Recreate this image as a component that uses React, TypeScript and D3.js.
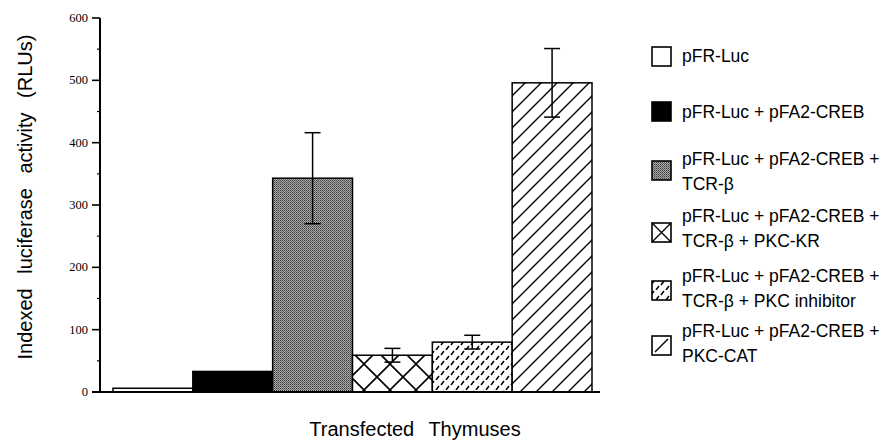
import React from 'react';
import * as d3 from 'd3';

const categories = ['luc', 'creb', 'tcr', 'kr', 'inh', 'cat'];
const values = [6, 33, 343, 59, 80, 496];
const errors = [0, 0, 73, 11, 11, 55];
const yTicks = [0, 100, 200, 300, 400, 500, 600];
const yMinor = [50, 150, 250, 350, 450, 550];
const legendLines = [
  ['pFR-Luc'],
  ['pFR-Luc + pFA2-CREB'],
  ['pFR-Luc + pFA2-CREB +', 'TCR-β'],
  ['pFR-Luc + pFA2-CREB +', 'TCR-β + PKC-KR'],
  ['pFR-Luc + pFA2-CREB +', 'TCR-β + PKC inhibitor'],
  ['pFR-Luc + pFA2-CREB +', 'PKC-CAT'],
];
const fills = ['#fff', '#000', 'url(#stip)', 'url(#cross)', 'url(#dash)', 'url(#hatch)'];

export default function App() {
  const x = d3.scaleBand<string>().domain(categories).range([113, 592]).padding(0);
  const y = d3.scaleLinear().domain([0, 600]).range([392, 18]);
  const serif = '"Liberation Serif", "Times New Roman", serif';
  const sans = '"Liberation Sans", Arial, sans-serif';
  // legend box tops and text first-line baselines
  const legendBox = [47, 102, 161, 223, 281, 336];
  const legendBase = [62, 118, 165, 222, 282, 337];
  const lineGap = 25;

  return (
    <svg width={885} height={441} style={{ position: 'absolute', left: 0, top: 0, background: '#fff' }}>
      <defs>
        <pattern id="stip" width={2} height={2} patternUnits="userSpaceOnUse">
          <rect width={2} height={2} fill="#aaa" />
          <rect width={1} height={1} fill="#3a3a3a" />
          <rect x={1} y={1} width={1} height={1} fill="#666" />
        </pattern>
        <pattern id="cross" width={26} height={26} patternUnits="userSpaceOnUse">
          <rect width={26} height={26} fill="#fff" />
          <path d="M0,0L26,26M26,0L0,26" stroke="#000" strokeWidth={1.6} />
        </pattern>
        <pattern id="dash" width={10} height={10} patternUnits="userSpaceOnUse">
          <rect width={10} height={10} fill="#fff" />
          <path d="M1,5L4,1M6,10L9,6" stroke="#000" strokeWidth={1.5} />
        </pattern>
        <pattern id="hatch" width={16} height={16} patternUnits="userSpaceOnUse">
          <rect width={16} height={16} fill="#fff" />
          <path d="M0,16L16,0M-4,4L4,-4M12,20L20,12" stroke="#000" strokeWidth={1.4} />
        </pattern>
      </defs>

      {/* bars */}
      {categories.map((c, i) => (
        <rect key={c} x={x(c)!} y={y(values[i])} width={x.bandwidth()} height={y(0) - y(values[i])}
          fill={fills[i]} stroke="#000" strokeWidth={1.5} />
      ))}

      {/* error bars */}
      {categories.map((c, i) => {
        if (!errors[i]) return null;
        const cx = x(c)! + x.bandwidth() / 2;
        const hi = y(values[i] + errors[i]);
        const lo = y(values[i] - errors[i]);
        return (
          <g key={c} stroke="#000" strokeWidth={1.5}>
            <line x1={cx} x2={cx} y1={hi} y2={lo} />
            <line x1={cx - 8} x2={cx + 8} y1={hi} y2={hi} />
            <line x1={cx - 8} x2={cx + 8} y1={lo} y2={lo} />
          </g>
        );
      })}

      {/* axes */}
      <line x1={100} x2={100} y1={y(600)} y2={y(0)} stroke="#000" strokeWidth={2} />
      <line x1={92} x2={600} y1={y(0)} y2={y(0)} stroke="#000" strokeWidth={2} />
      {yTicks.map(t => (
        <g key={t}>
          <line x1={92} x2={100} y1={y(t)} y2={y(t)} stroke="#000" strokeWidth={1.6} />
          <text x={88} y={y(t) + 4} textAnchor="end" fontFamily={serif} fontSize={12.5}>{t}</text>
        </g>
      ))}
      {yMinor.map(t => (
        <line key={t} x1={97} x2={100} y1={y(t)} y2={y(t)} stroke="#000" strokeWidth={1.2} />
      ))}

      <text x={415} y={436} textAnchor="middle" fontFamily={sans} fontSize={20} wordSpacing={9}>
        Transfected Thymuses
      </text>
      <text transform="translate(32,197) rotate(-90)" textAnchor="middle" fontFamily={sans} fontSize={20}
        wordSpacing={9}>
        Indexed luciferase activity (RLUs)
      </text>

      {/* legend */}
      {legendLines.map((lines, i) => {
        const bx = 652;
        const by = legendBox[i];
        const s = 19;
        let inner: React.ReactNode = null;
        let fill = fills[i];
        if (i === 3) {
          fill = '#fff';
          inner = <path d={`M${bx},${by}L${bx + s},${by + s}M${bx + s},${by}L${bx},${by + s}`} stroke="#000" strokeWidth={1.3} />;
        } else if (i === 5) {
          fill = '#fff';
          inner = <path d={`M${bx + 3},${by + s - 3}L${bx + s - 3},${by + 3}`} stroke="#000" strokeWidth={1.4} />;
        }
        return (
          <g key={i}>
            <rect x={bx} y={by} width={s} height={s} fill={fill} />
            {inner}
            <rect x={bx} y={by} width={s} height={s} fill="none" stroke="#000" strokeWidth={1.6} />
            {lines.map((l, j) => (
              <text key={j} x={682} y={legendBase[i] + j * lineGap} fontFamily={sans} fontSize={17.5}>{l}</text>
            ))}
          </g>
        );
      })}
    </svg>
  );
}
